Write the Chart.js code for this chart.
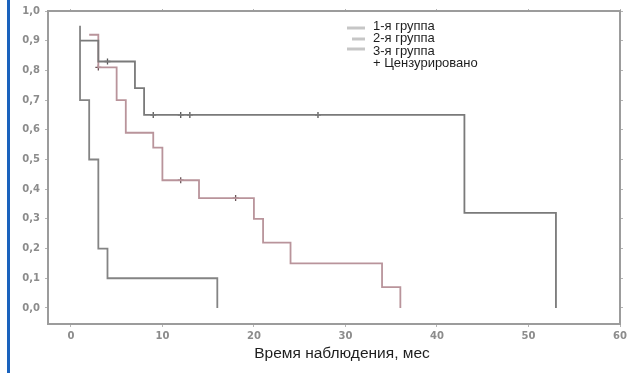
<!DOCTYPE html>
<html>
<head>
<meta charset="utf-8">
<script src="https://cdn.jsdelivr.net/npm/chart.js@4"></script>
<style>
    html, body { margin: 0; padding: 0; background: #fff; }
    .wrap { position: relative; width: 638px; height: 373px; overflow: hidden; }
    .blue-bar { position: absolute; left: 7px; top: 0; width: 3px; height: 373px; background: #1a62bd; }
    #kmChart { position: absolute; left: 0; top: 0; }
</style>
</head>
<body>
<div class="wrap">
    <div class="blue-bar"></div>
    <canvas id="kmChart" width="638" height="373"></canvas>
</div>
<script>
// Kaplan-Meier data (time in months, survival share)
const group1Times = [1, 3, 7, 8, 43, 53, 53];
const group1Surv = [0.90, 0.83, 0.74, 0.65, 0.32, 0.32, 0.0];

const group2Times = [2, 3, 5, 6, 9, 10, 14, 20, 21, 24, 34, 36];
const group2Surv = [0.92, 0.81, 0.70, 0.59, 0.54, 0.43, 0.37, 0.30, 0.22, 0.15, 0.07, 0.0];

const group3Times = [1, 1, 2, 3, 4, 16, 16];
const group3Surv = [0.95, 0.70, 0.50, 0.20, 0.10, 0.10, 0.0];

// censored observations
const cens1Times = [4, 9, 12, 13, 27];
const cens1Surv = [0.83, 0.65, 0.65, 0.65, 0.65];
const cens2Times = [3, 12, 18];
const cens2Surv = [0.81, 0.43, 0.37];

const xTicks = [0, 10, 20, 30, 40, 50, 60];
const xTickLabels = ['0', '10', '20', '30', '40', '50', '60'];
const yTicks = [0, 0.1, 0.2, 0.3, 0.4, 0.5, 0.6, 0.7, 0.8, 0.9, 1.0];
const yTickLabels = ['0,0', '0,1', '0,2', '0,3', '0,4', '0,5', '0,6', '0,7', '0,8', '0,9', '1,0'];

const legendLabels = ['1-я группа', '2-я группа', '3-я группа', '+ Цензурировано'];
const xTitle = 'Время наблюдения, мес';

const toPoints = (times, vals) => times.map((t, i) => ({ x: t, y: vals[i] }));

const frameColor = '#9c9c9c';
const tickFont = { family: 'DejaVu Sans', size: 10, weight: 'bold' };

// legend inside the plot area + axis title (slightly right of centre, like the original)
const kmLegend = {
    id: 'kmLegend',
    afterDraw(chart) {
        const c = chart.ctx;
        c.save();
        const lineY = [28, 39, 49];
        const lineX = [[347, 365], [352, 365], [347, 365]];
        c.strokeStyle = '#c6c6c6';
        c.lineWidth = 3;
        lineY.forEach((y, i) => {
            c.beginPath();
            c.moveTo(lineX[i][0], y);
            c.lineTo(lineX[i][1], y);
            c.stroke();
        });
        c.fillStyle = '#1e1e1e';
        c.font = '13px "Liberation Sans", Arial, sans-serif';
        c.textBaseline = 'middle';
        const textY = [26, 38, 51, 63];
        legendLabels.forEach((txt, i) => c.fillText(txt, 373, textY[i]));

        c.font = '15.5px "Liberation Sans", Arial, sans-serif';
        c.textAlign = 'center';
        c.fillText(xTitle, 342, 354);
        c.restore();
    }
};

const ctx = document.getElementById('kmChart').getContext('2d');

new Chart(ctx, {
    type: 'line',
    data: {
        datasets: [
            {
                label: legendLabels[0],
                data: toPoints(group1Times, group1Surv),
                borderColor: '#7a7a7a',
                borderWidth: 1.8,
                stepped: 'before',
                pointRadius: 0,
                fill: false
            },
            {
                label: legendLabels[1],
                data: toPoints(group2Times, group2Surv),
                borderColor: '#b9949b',
                borderWidth: 1.8,
                stepped: 'before',
                pointRadius: 0,
                fill: false
            },
            {
                label: legendLabels[2],
                data: toPoints(group3Times, group3Surv),
                borderColor: '#848484',
                borderWidth: 1.8,
                stepped: 'before',
                pointRadius: 0,
                fill: false
            },
            {
                label: 'cens1',
                data: toPoints(cens1Times, cens1Surv),
                showLine: false,
                pointStyle: 'cross',
                pointRadius: 3,
                borderColor: '#555',
                borderWidth: 1.3
            },
            {
                label: 'cens2',
                data: toPoints(cens2Times, cens2Surv),
                showLine: false,
                pointStyle: 'cross',
                pointRadius: 3,
                borderColor: '#6a5458',
                borderWidth: 1.3
            }
        ]
    },
    options: {
        responsive: false,
        animation: false,
        layout: { padding: 0 },
        plugins: {
            legend: { display: false },
            tooltip: { enabled: false }
        },
        scales: {
            x: {
                type: 'linear',
                position: 'bottom',
                min: -2.5,
                max: 60,
                afterBuildTicks: s => { s.ticks = xTicks.map(v => ({ value: v })); },
                afterFit: s => { s.height = 49; },
                border: { color: frameColor, width: 2 },
                grid: { drawOnChartArea: false, tickLength: 3, color: '#b5b5b5' },
                ticks: {
                    padding: 3,
                    color: '#8c8c8c',
                    font: tickFont,
                    maxRotation: 0,
                    callback: (v, i) => xTickLabels[i]
                }
            },
            xTop: {
                type: 'linear',
                position: 'top',
                min: -2.5,
                max: 60,
                afterBuildTicks: s => { s.ticks = xTicks.map(v => ({ value: v })); },
                afterFit: s => { s.height = 11; },
                border: { color: frameColor, width: 2 },
                grid: { drawOnChartArea: false, tickLength: 2, color: '#b5b5b5' },
                ticks: { display: false }
            },
            y: {
                type: 'linear',
                position: 'left',
                min: -0.054,
                max: 1.0,
                afterBuildTicks: s => { s.ticks = yTicks.map(v => ({ value: v })); },
                afterFit: s => { s.width = 48; },
                border: { color: frameColor, width: 2 },
                grid: { drawOnChartArea: false, tickLength: 3, color: '#b5b5b5' },
                ticks: {
                    padding: 5,
                    color: '#8c8c8c',
                    font: tickFont,
                    callback: (v, i) => yTickLabels[i]
                }
            },
            yRight: {
                type: 'linear',
                position: 'right',
                min: -0.054,
                max: 1.0,
                afterBuildTicks: s => { s.ticks = yTicks.map(v => ({ value: v })); },
                afterFit: s => { s.width = 18; },
                border: { color: frameColor, width: 2 },
                grid: { drawOnChartArea: false, tickLength: 3, color: '#b5b5b5' },
                ticks: { display: false }
            }
        }
    },
    plugins: [kmLegend]
});
</script>
</body>
</html>
